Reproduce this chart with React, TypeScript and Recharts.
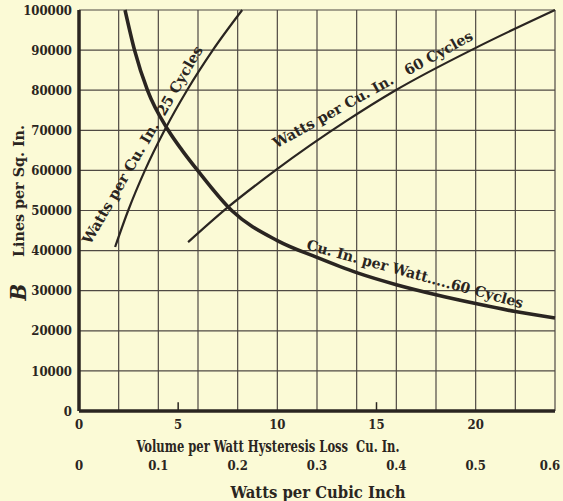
import React from 'react';
import { LineChart, Line, XAxis, YAxis, CartesianGrid, ReferenceLine, ReferenceDot } from 'recharts';

// Cu. In. per Watt, 60 cycles (x on the volume axis)
const volX = [2.32, 2.8, 3.45, 4.5, 5.2, 5.98, 7.7, 10, 12, 14, 16, 18, 20, 22, 24];
const volB = [100000, 90000, 80000, 70000, 65000, 60000, 50000, 42500, 38300, 34500, 31500, 29000, 26800, 24800, 23200];

// Watts per Cu. In., 60 cycles (x on the watts axis)
const w60X = [0.1375, 0.187, 0.2475, 0.3375, 0.3975, 0.5025, 0.6];
const w60B = [42100, 50700, 60000, 72400, 79800, 90800, 100000];

// Watts per Cu. In., 25 cycles
const w25X = [0.0455, 0.062, 0.0831, 0.1078, 0.1362, 0.1687, 0.2057];
const w25B = [40900, 50000, 60000, 70000, 80000, 90000, 100000];

const volTicks = [0, 5, 10, 15, 20];
const wattTicks = [0, 0.1, 0.2, 0.3, 0.4, 0.5, 0.6];
const gridX = [2, 4, 6, 8, 10, 12, 14, 16, 18, 20, 22, 24];
const yTicks = [0, 10000, 20000, 30000, 40000, 50000, 60000, 70000, 80000, 90000, 100000];
const smallTicks = [5, 15];

const toRows = (xs: number[], bs: number[]) => xs.map((x, i) => ({ x, b: bs[i] }));
const volData = toRows(volX, volB);
const w60Data = toRows(w60X, w60B);
const w25Data = toRows(w25X, w25B);

const INK = '#2a2521';
const GRID = '#4f4943';
const BG = '#fbfad6';
const FONT = "'DejaVu Serif Condensed', 'DejaVu Serif', serif";
const tickStyle = { fill: INK, fontSize: 13, fontFamily: FONT, fontWeight: 700, fontStretch: 'condensed' };

const curveLabel = (text: string, angle: number, len: number) => (props: any) => {
	const { x, y } = props.viewBox;
	return (
		<text
			x={x}
			y={y}
			transform={`rotate(${angle} ${x} ${y})`}
			textAnchor='middle'
			dominantBaseline='central'
			fill={INK}
			fontFamily={FONT}
			fontWeight={700}
			fontSize={14.5}
			textLength={len}
			lengthAdjust='spacingAndGlyphs'
			style={{ whiteSpace: 'pre', fontStretch: 'condensed' }}
		>
			{text}
		</text>
	);
};

// last watts label sits tight against the right edge
const WattTick = (props: any) => {
	const { x, y, payload } = props;
	const v = payload.value as number;
	const last = v === wattTicks[wattTicks.length - 1];
	return (
		<text x={last ? x - 3 : x} y={y} dy='0.71em' textAnchor='middle' {...tickStyle}>
			{v === 0 ? '0' : v.toFixed(1)}
		</text>
	);
};

export default function App() {
	return (
		<div style={{ position: 'fixed', left: 0, top: 0, width: 563, height: 501, background: BG }}>
			<LineChart width={563} height={501} margin={{ top: 10, right: 8, left: 0, bottom: 0 }}>
				<CartesianGrid vertical={false} stroke={GRID} strokeWidth={1.2} />
				<XAxis
					xAxisId='cu'
					type='number'
					dataKey='x'
					domain={[0, 24]}
					ticks={volTicks}
					height={40}
					tickLine={false}
					tickSize={0}
					tickMargin={9}
					axisLine={{ stroke: INK, strokeWidth: 3.5 }}
					tick={tickStyle}
					label={(props: any) => {
						const { x, y } = props.viewBox;
						return (
							<text x={x + 189} y={y + 35} textAnchor='middle' dominantBaseline='central' fill={INK} fontFamily={FONT} fontWeight={700} fontSize={16} textLength={263} lengthAdjust='spacingAndGlyphs' style={{ whiteSpace: 'pre', fontStretch: 'condensed' }}>
								{'Volume per Watt Hysteresis Loss  Cu. In.'}
							</text>
						);
					}}
				/>
				<XAxis
					xAxisId='w'
					type='number'
					dataKey='x'
					domain={[0, 0.6]}
					ticks={wattTicks}
					height={50}
					axisLine={false}
					tickLine={false}
					tickSize={0}
					tickMargin={10}
					tick={<WattTick />}
					label={(props: any) => {
						const { x, y } = props.viewBox;
						return (
							<text x={x + 239} y={y + 41} textAnchor='middle' dominantBaseline='central' fill={INK} fontFamily={FONT} fontWeight={700} fontSize={16.5} textLength={175} lengthAdjust='spacingAndGlyphs' style={{ fontStretch: 'condensed' }}>
								Watts per Cubic Inch
							</text>
						);
					}}
				/>
				<YAxis
					type='number'
					domain={[0, 100000]}
					ticks={yTicks}
					width={79}
					tickLine={false}
					tickSize={0}
					tickMargin={7}
					axisLine={{ stroke: INK, strokeWidth: 3.5 }}
					tick={tickStyle}
					label={(props: any) => {
						const { x, y } = props.viewBox;
						const lx = x + 18;
						const ly1 = y + 181;
						const ly2 = y + 282;
						return (
							<g fill={INK} fontFamily={FONT} fontWeight={700}>
								<text x={lx} y={ly1} transform={`rotate(-90 ${lx} ${ly1})`} textAnchor='middle' dominantBaseline='central' fontSize={15.5} textLength={132} lengthAdjust='spacingAndGlyphs' style={{ fontStretch: 'condensed' }}>
									Lines per Sq. In.
								</text>
								<text x={lx} y={ly2} transform={`rotate(-90 ${lx} ${ly2})`} textAnchor='middle' dominantBaseline='central' fontSize={22} fontStyle='italic'>
									B
								</text>
							</g>
						);
					}}
				/>
				{gridX.map((g) => (
					<ReferenceLine key={g} xAxisId='cu' x={g} stroke={GRID} strokeWidth={1.2} />
				))}
				{smallTicks.map((t) => (
					<ReferenceLine
						key={t}
						xAxisId='cu'
						segment={[
							{ x: t, y: 0 },
							{ x: t, y: 2200 },
						]}
						stroke={INK}
						strokeWidth={1.5}
					/>
				))}
				<Line xAxisId='cu' data={volData} dataKey='b' type='monotone' stroke={INK} strokeWidth={3.6} dot={false} isAnimationActive={false} />
				<Line xAxisId='w' data={w60Data} dataKey='b' type='monotone' stroke={INK} strokeWidth={2.2} dot={false} isAnimationActive={false} />
				<Line xAxisId='w' data={w25Data} dataKey='b' type='monotone' stroke={INK} strokeWidth={2.2} dot={false} isAnimationActive={false} />
				<ReferenceDot xAxisId='w' x={0.0794} y={66400} r={0} fill='none' stroke='none' label={curveLabel('Watts per Cu. In.  25 Cycles', -60, 226)} />
				<ReferenceDot xAxisId='w' x={0.37} y={80300} r={0} fill='none' stroke='none' label={curveLabel('Watts per Cu. In.   60 Cycles', -29, 226)} />
				<ReferenceDot xAxisId='cu' x={16.95} y={34300} r={0} fill='none' stroke='none' label={curveLabel('Cu. In. per Watt.....60 Cycles', 15.3, 224)} />
			</LineChart>
		</div>
	);
}
